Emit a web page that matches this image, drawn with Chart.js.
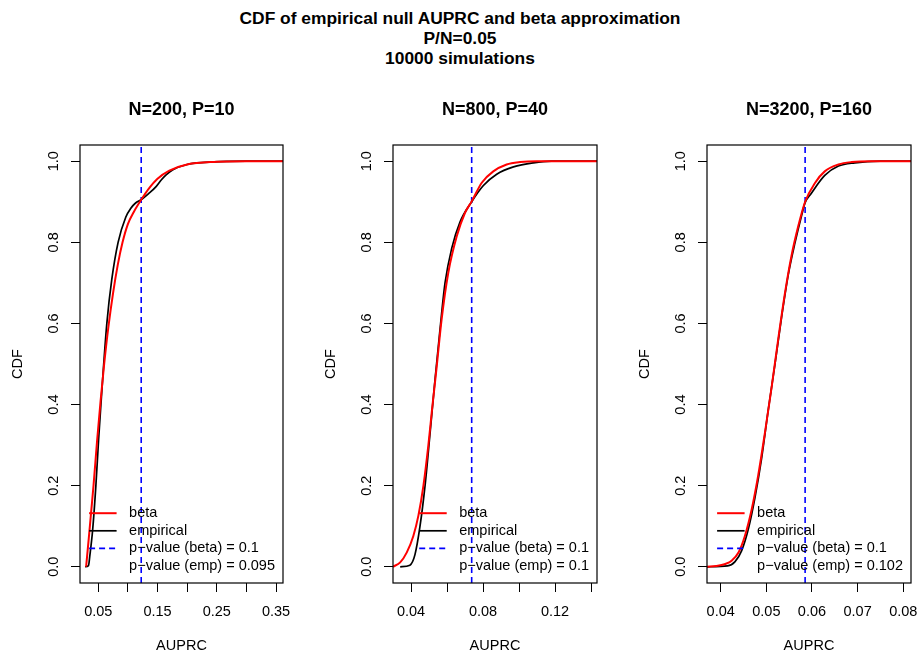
<!DOCTYPE html>
<html>
<head>
<meta charset="utf-8">
<script src="https://cdn.jsdelivr.net/npm/chart.js@4.4.1/dist/chart.umd.min.js"></script>
<style>
  body { margin: 0; background: #fff; width: 920px; height: 655px; position: relative; overflow: hidden;
         font-family: "Liberation Sans", Arial, Helvetica, sans-serif; }
  #mainTitle { position: absolute; left: 0; top: 8px; width: 920px; text-align: center;
               font-weight: bold; font-size: 17.4px; line-height: 20px; color: #000; }
  canvas { position: absolute; top: 90px; }
</style>
</head>
<body>
<div id="mainTitle">CDF of empirical null AUPRC and beta approximation<br>P/N=0.05<br>10000 simulations</div>
<canvas id="c1"></canvas>
<canvas id="c2"></canvas>
<canvas id="c3"></canvas>
<script>
// ---- data ----
const panelTitles = ['N=200, P=10', 'N=800, P=40', 'N=3200, P=160'];

// N=200, P=10
const beta1Auprc = [0.0295, 0.034, 0.038, 0.042, 0.048, 0.054, 0.060, 0.067, 0.075, 0.083, 0.091, 0.100, 0.110, 0.1225, 0.135, 0.150, 0.170, 0.200, 0.250, 0.300, 0.362];
const beta1Cdf   = [0.0, 0.07, 0.135, 0.20, 0.31, 0.41, 0.50, 0.59, 0.675, 0.745, 0.80, 0.845, 0.875, 0.905, 0.932, 0.957, 0.977, 0.992, 0.9985, 1.0, 1.0];
const emp1Auprc  = [0.0277, 0.0335, 0.036, 0.0405, 0.046, 0.0506, 0.0545, 0.0645, 0.0729, 0.0835, 0.0964, 0.105, 0.113, 0.1225, 0.135, 0.148, 0.157, 0.165, 0.176, 0.20, 0.23, 0.27, 0.30, 0.362];
const emp1Cdf    = [0.0, 0.003, 0.03, 0.09, 0.20, 0.314, 0.40, 0.60, 0.709, 0.80, 0.862, 0.884, 0.897, 0.905, 0.92, 0.938, 0.955, 0.967, 0.979, 0.992, 0.997, 0.9995, 1.0, 1.0];

// N=800, P=40
const beta2Auprc = [0.030, 0.034, 0.0376, 0.0413, 0.0441, 0.0469, 0.0496, 0.0515, 0.0543, 0.057, 0.0607, 0.0654, 0.070, 0.0737, 0.0793, 0.0857, 0.0931, 0.1006, 0.110, 0.1435];
const beta2Cdf   = [0.0, 0.011, 0.035, 0.076, 0.126, 0.20, 0.298, 0.38, 0.495, 0.61, 0.725, 0.815, 0.873, 0.901, 0.947, 0.975, 0.992, 0.998, 1.0, 1.0];
const emp2Auprc  = [0.034, 0.0394, 0.0422, 0.045, 0.0478, 0.0506, 0.0533, 0.0561, 0.0589, 0.0626, 0.0672, 0.0737, 0.0802, 0.0876, 0.0969, 0.108, 0.118, 0.1435];
const emp2Cdf    = [0.0, 0.004, 0.03, 0.10, 0.20, 0.33, 0.46, 0.585, 0.70, 0.785, 0.85, 0.90, 0.94, 0.968, 0.986, 0.996, 1.0, 1.0];

// N=3200, P=160
const beta3Auprc = [0.037, 0.039, 0.041, 0.0424, 0.0439, 0.0453, 0.0468, 0.0482, 0.0497, 0.0512, 0.0526, 0.0541, 0.0555, 0.057, 0.0585, 0.0607, 0.0628, 0.0658, 0.0687, 0.073, 0.0817];
const beta3Cdf   = [0.0, 0.002, 0.007, 0.015, 0.035, 0.076, 0.142, 0.224, 0.331, 0.446, 0.561, 0.676, 0.766, 0.84, 0.90, 0.947, 0.975, 0.992, 0.998, 1.0, 1.0];
const emp3Auprc  = [0.037, 0.0415, 0.0431, 0.0446, 0.0461, 0.0475, 0.049, 0.0504, 0.0519, 0.0534, 0.0548, 0.0563, 0.0577, 0.0585, 0.0598, 0.0628, 0.0658, 0.0694, 0.075, 0.0817];
const emp3Cdf    = [0.0, 0.002, 0.012, 0.04, 0.095, 0.17, 0.27, 0.385, 0.50, 0.62, 0.72, 0.80, 0.865, 0.898, 0.92, 0.965, 0.988, 0.996, 1.0, 1.0];

// beta p-value = 0.1 cut-offs (dashed blue lines) and legend p-values
const betaCutoff = [0.1225, 0.0737, 0.0585];
const pBeta = ['0.1', '0.1', '0.1'];
const pEmp  = ['0.095', '0.1', '0.102'];

// axis ticks
const cdfTicks = [0, 0.2, 0.4, 0.6, 0.8, 1.0];
const xTicks1 = [0.05, 0.10, 0.15, 0.20, 0.25, 0.30, 0.35];
const xTickLabels1 = ['0.05', '', '0.15', '', '0.25', '', '0.35'];
const xTicks2 = [0.04, 0.06, 0.08, 0.10, 0.12, 0.14];
const xTickLabels2 = ['0.04', '', '0.08', '', '0.12', ''];
const xTicks3 = [0.04, 0.05, 0.06, 0.07, 0.08];
const xTickLabels3 = ['0.04', '0.05', '0.06', '0.07', '0.08'];
const xMin = [0.0192, 0.030, 0.0370];
const xMax = [0.3618, 0.1433, 0.0817];

// ---- layout (page pixels) ----
const boxLeft = [80, 393, 707];
const boxRight = [283, 597, 911];
const FONT = '"Liberation Sans", Arial, Helvetica, sans-serif';

function pts(xs, ys) { return xs.map((x, i) => ({ x: x, y: ys[i] })); }

// frame, panel title, rotated y labels and the R-style legend
function rFrame(i) {
  return {
    id: 'rFrame' + i,
    afterDraw(chart) {
      const { ctx, chartArea: a, scales } = chart;
      ctx.save();
      ctx.strokeStyle = '#000';
      ctx.lineWidth = 1.2;
      ctx.strokeRect(a.left, a.top, a.right - a.left, a.bottom - a.top);

      ctx.fillStyle = '#000';
      ctx.textAlign = 'center';
      ctx.textBaseline = 'middle';
      ctx.font = 'bold 18px ' + FONT;
      ctx.fillText(panelTitles[i], (a.left + a.right) / 2, a.top - 35);

      ctx.font = '14.5px ' + FONT;
      scales.y.ticks.forEach(t => {
        const py = scales.y.getPixelForValue(t.value);
        ctx.save();
        ctx.translate(a.left - 26.5, py);
        ctx.rotate(-Math.PI / 2);
        ctx.fillText(t.value.toFixed(1), 0, 0);
        ctx.restore();
      });

      // legend, bottom right, no box
      const items = [
        { text: 'beta', color: 'red', width: 2, dash: [] },
        { text: 'empirical', color: 'black', width: 1.7, dash: [] },
        { text: 'p\u2212value (beta) = ' + pBeta[i], color: 'blue', width: 1.6, dash: [6, 4] },
        { text: 'p\u2212value (emp) = ' + pEmp[i], color: null }
      ];
      let maxW = 0;
      items.forEach(it => { maxW = Math.max(maxW, ctx.measureText(it.text).width); });
      const textX = a.right - 8 - maxW;
      ctx.textAlign = 'left';
      items.forEach((it, k) => {
        const y = a.bottom - 17 - (items.length - 1 - k) * 17.6;
        if (it.color) {
          ctx.beginPath();
          ctx.strokeStyle = it.color;
          ctx.lineWidth = it.width;
          ctx.setLineDash(it.dash);
          ctx.moveTo(textX - 40, y);
          ctx.lineTo(textX - 12.5, y);
          ctx.stroke();
          ctx.setLineDash([]);
        }
        ctx.fillStyle = '#000';
        ctx.fillText(it.text, textX, y);
      });
      ctx.restore();
    }
  };
}

const panelData = [
  { beta: pts(beta1Auprc, beta1Cdf), emp: pts(emp1Auprc, emp1Cdf), ticks: xTicks1, labels: xTickLabels1 },
  { beta: pts(beta2Auprc, beta2Cdf), emp: pts(emp2Auprc, emp2Cdf), ticks: xTicks2, labels: xTickLabels2 },
  { beta: pts(beta3Auprc, beta3Cdf), emp: pts(emp3Auprc, emp3Cdf), ticks: xTicks3, labels: xTickLabels3 }
];

panelData.forEach((p, i) => {
  const canvas = document.getElementById('c' + (i + 1));
  const w = boxRight[i] - boxLeft[i] + 90;
  canvas.width = w;
  canvas.height = 565;
  canvas.style.left = (boxLeft[i] - 80) + 'px';

  new Chart(canvas.getContext('2d'), {
    type: 'line',
    data: {
      datasets: [
        { label: 'beta', data: p.beta, borderColor: 'red', borderWidth: 2, pointRadius: 0,
          cubicInterpolationMode: 'monotone', fill: false },
        { label: 'empirical', data: p.emp, borderColor: 'black', borderWidth: 1.7, pointRadius: 0,
          cubicInterpolationMode: 'monotone', fill: false },
        { label: 'cutoff', data: [{ x: betaCutoff[i], y: -0.04 }, { x: betaCutoff[i], y: 1.04 }],
          borderColor: 'blue', borderWidth: 1.6, borderDash: [6, 4], pointRadius: 0, tension: 0, fill: false }
      ]
    },
    options: {
      responsive: false,
      animation: false,
      devicePixelRatio: 1,
      layout: { padding: { top: 55, right: 10, left: 0, bottom: 0 } },
      plugins: { legend: { display: false }, tooltip: { enabled: false }, title: { display: false } },
      scales: {
        x: {
          type: 'linear',
          min: xMin[i],
          max: xMax[i],
          afterBuildTicks: s => { s.ticks = p.ticks.map(v => ({ value: v })); },
          afterFit: s => { s.height = 72; s.paddingLeft = 0; s.paddingRight = 0; },
          ticks: {
            autoSkip: false, maxRotation: 0, minRotation: 0, padding: 11, color: '#000',
            font: { family: FONT, size: 14.5 },
            callback: (v, idx) => p.labels[idx]
          },
          grid: { drawOnChartArea: false, drawTicks: true, tickLength: 9, color: '#000', lineWidth: 1 },
          border: { display: false },
          title: { display: true, text: 'AUPRC', color: '#000', font: { family: FONT, size: 14.5 },
                   padding: { top: 0, bottom: 0 } }
        },
        y: {
          type: 'linear',
          min: -0.04,
          max: 1.04,
          afterBuildTicks: s => { s.ticks = cdfTicks.map(v => ({ value: v })); },
          afterFit: s => { s.width = 80; s.paddingTop = 0; s.paddingBottom = 0; },
          ticks: { display: false },
          grid: { drawOnChartArea: false, drawTicks: true, tickLength: 9, color: '#000', lineWidth: 1 },
          border: { display: false },
          title: { display: true, text: 'CDF', color: '#000', font: { family: FONT, size: 14.5 },
                   padding: { top: 9.6, bottom: 0 } }
        }
      }
    },
    plugins: [rFrame(i)]
  });
});
</script>
</body>
</html>
